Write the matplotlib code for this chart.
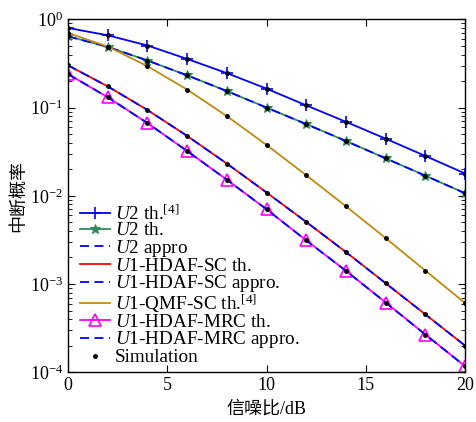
import numpy as np
import matplotlib
matplotlib.use('Agg')
import matplotlib.pyplot as plt
from matplotlib.ticker import LogLocator, NullFormatter

plt.rcParams['font.family'] = ['Liberation Serif', 'Noto Sans CJK SC']
plt.rcParams['mathtext.fontset'] = 'custom'
plt.rcParams['mathtext.rm'] = 'Liberation Serif'
plt.rcParams['mathtext.it'] = 'Liberation Serif:italic'

# 信噪比 (dB)
snr = [0, 2, 4, 6, 8, 10, 12, 14, 16, 18, 20]

# 中断概率
u2_ref = [0.80, 0.66, 0.506, 0.356, 0.246, 0.164, 0.106, 0.069, 0.0444, 0.0283, 0.0179]
u2_th = [0.643, 0.488, 0.342, 0.232, 0.154, 0.100, 0.065, 0.0418, 0.0266, 0.0169, 0.0107]
sc_th = [0.301, 0.174, 0.094, 0.0477, 0.0232, 0.0109, 0.00505, 0.00230, 0.00102, 0.000452, 0.000200]
qmf_th = [0.701, 0.492, 0.295, 0.160, 0.080, 0.0377, 0.0171, 0.0076, 0.00331, 0.00142, 0.000608]
mrc_th = [0.240, 0.131, 0.0667, 0.0322, 0.0152, 0.00703, 0.00312, 0.00141, 0.000617, 0.000267, 0.000117]

labels = [r'$U$2 th.$^{[4]}$', r'$U$2 th.', r'$U$2 appro', r'$U$1-HDAF-SC th.',
          r'$U$1-HDAF-SC appro.', r'$U$1-QMF-SC th.$^{[4]}$', r'$U$1-HDAF-MRC th.',
          r'$U$1-HDAF-MRC appro.', 'Simulation']

fig = plt.figure(figsize=(4.76, 4.22), dpi=100)
ax = fig.add_axes([0.143, 0.118, 0.834, 0.836])

blue = '#0000ff'
lw = 1.3
ax.plot(snr, u2_ref, color=blue, lw=lw, marker='+', ms=8, mew=1.2, label=labels[0])
ax.plot(snr, u2_th, color='#2e8b57', lw=lw, marker='*', ms=7, mew=0.8, label=labels[1])
ax.plot(snr, u2_th, color=blue, lw=lw, ls=(0, (5, 3)), label=labels[2])
ax.plot(snr, sc_th, color='#ff0000', lw=lw, label=labels[3])
ax.plot(snr, sc_th, color=blue, lw=lw, ls=(0, (5, 3)), label=labels[4])
ax.plot(snr, qmf_th, color='#c08a10', lw=lw, label=labels[5])
ax.plot(snr, mrc_th, color='#ff00ff', lw=lw, marker='^', ms=8, mfc='none', mew=1.2, label=labels[6])
ax.plot(snr, mrc_th, color=blue, lw=lw, ls=(0, (5, 3)), label=labels[7])

# 仿真点
sim_x = snr * 5
sim_y = u2_ref + u2_th + sc_th + qmf_th + mrc_th
ax.plot(sim_x, sim_y, ls='none', marker='.', color='k', ms=5, label=labels[8])

ax.set_yscale('log')
ax.set_xlim(0, 20)
ax.set_ylim(1e-4, 1)
ax.set_xticks([0, 5, 10, 15, 20])
ax.yaxis.set_major_locator(LogLocator(base=10, numticks=10))
ax.yaxis.set_minor_locator(LogLocator(base=10, subs=np.arange(2, 10), numticks=20))
ax.yaxis.set_minor_formatter(NullFormatter())
ax.tick_params(which='both', direction='in', top=True, right=True, labelsize=13)
ax.tick_params(which='major', length=5)
ax.tick_params(which='minor', length=3)
for s in ax.spines.values():
    s.set_linewidth(1.0)

ax.set_xlabel('信噪比/dB', fontsize=13, labelpad=5)
ax.set_ylabel('中断概率', fontsize=13, labelpad=2)

ax.legend(loc='lower left', bbox_to_anchor=(0.0, -0.016), frameon=False, fontsize=13.8,
          handlelength=1.6, handletextpad=0.25, labelspacing=-0.08, borderaxespad=0.3,
          borderpad=0.3)

fig.savefig('out.png', dpi=100)
